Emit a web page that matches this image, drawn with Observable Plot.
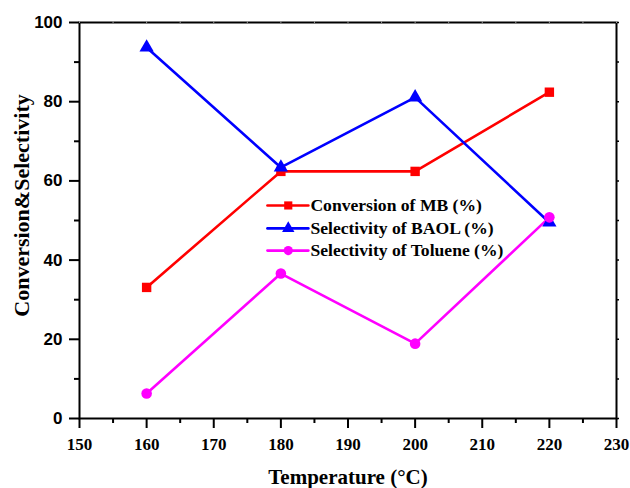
<!DOCTYPE html>
<html><head><meta charset="utf-8">
<script src="https://cdn.jsdelivr.net/npm/d3@7"></script>
<script src="https://cdn.jsdelivr.net/npm/@observablehq/plot@0.6"></script>
<style>body{margin:0;background:#fff}</style>
</head><body><div id="chart"></div>
<script>
const temperatures = [160, 180, 200, 220];
const conversionMB = [33.1, 62.4, 62.4, 82.4];
const selectivityBAOL = [93.7, 63.4, 81.1, 49.5];
const selectivityToluene = [6.3, 36.6, 18.9, 50.8];
const seriesNames = ["Conversion of MB (%)", "Selectivity of BAOL (%)", "Selectivity of Toluene (%)"];
const seriesColors = ["#ff0000", "#0000ff", "#ff00ff"];
const seriesSymbols = ["square", "triangle", "circle"];
const xTicks = [150,160,170,180,190,200,210,220,230];
const xMinor = [155,165,175,185,195,205,215,225];
const yTicks = [0,20,40,60,80,100];
const yMinor = [10,30,50,70,90];
const legendY = [53.8, 48.0, 42.4];

const serif = "'Liberation Serif','Times New Roman',serif";
const sans = "'Liberation Sans',Arial,sans-serif";
const allValues = [conversionMB, selectivityBAOL, selectivityToluene];
const data = [];
allValues.forEach((vals, i) => vals.forEach((v, j) => data.push({s: seriesNames[i], x: temperatures[j], y: v})));
const legend = seriesNames.map((n, i) => ({s: n, y: legendY[i]}));
const legLine = legend.flatMap(d => [{s: d.s, x: 178.0, y: d.y}, {s: d.s, x: 184.1, y: d.y}]);

const chart = Plot.plot({
  width: 630, height: 488,
  marginLeft: 79, marginRight: 14, marginTop: 22, marginBottom: 70,
  x: {domain: [150, 230]},
  y: {domain: [0, 100]},
  color: {domain: seriesNames, range: seriesColors},
  symbol: {domain: seriesNames, range: seriesSymbols},
  style: {background: "#fff"},
  marks: [
    Plot.frame({stroke: "#000", strokeWidth: 2}),
    Plot.axisX({ticks: xTicks, tickSize: 10, text: null, stroke: "#000", strokeWidth: 2, label: null}),
    Plot.axisX({ticks: xMinor, tickSize: 5, text: null, stroke: "#000", strokeWidth: 2, label: null}),
    Plot.axisY({ticks: yTicks, tickSize: 10, text: null, stroke: "#000", strokeWidth: 2, label: null}),
    Plot.axisY({ticks: yMinor, tickSize: 5, text: null, stroke: "#000", strokeWidth: 2, label: null}),
    Plot.axisY({anchor: "right", ticks: yTicks.concat(yMinor), tickSize: 2, text: null, stroke: "#000", strokeWidth: 1.5, label: null}),
    Plot.axisX({anchor: "top", ticks: xTicks.concat(xMinor), tickSize: 2, text: null, strokeWidth: 1, stroke: "#999", label: null}),
    Plot.text(xTicks, {x: d => d, frameAnchor: "bottom", dy: 31, text: d => String(d), fontFamily: serif, fontWeight: "bold", fontSize: 17, fill: "#000"}),
    Plot.text(yTicks, {y: d => d, frameAnchor: "left", dx: -17, textAnchor: "end", text: d => String(d), fontFamily: sans, fontWeight: "bold", fontSize: 17, fill: "#000"}),
    Plot.line(data, {x: "x", y: "y", z: "s", stroke: "s", strokeWidth: 2.6}),
    Plot.dot(data, {x: "x", y: "y", symbol: "s", fill: "s", r: 5.3}),
    Plot.line(legLine, {x: "x", y: "y", z: "s", stroke: "s", strokeWidth: 2.6}),
    Plot.dot(legend, {x: 181.1, y: "y", symbol: "s", fill: "s", r: 4.6}),
    Plot.text(legend, {x: 184.4, y: "y", text: "s", textAnchor: "start", fontFamily: serif, fontWeight: "bold", fontSize: 17.6, fill: "#000"}),
    Plot.text(["Temperature (°C)"], {frameAnchor: "bottom", dy: 65, textAnchor: "middle", fontFamily: serif, fontWeight: "bold", fontSize: 21, fill: "#000"}),
    Plot.text(["Conversion&Selectivity"], {frameAnchor: "left", dx: -58, dy: -15, textAnchor: "middle", rotate: -90, fontFamily: serif, fontWeight: "bold", fontSize: 22, fill: "#000"})
  ]
});
document.getElementById("chart").appendChild(chart);
</script></body></html>
